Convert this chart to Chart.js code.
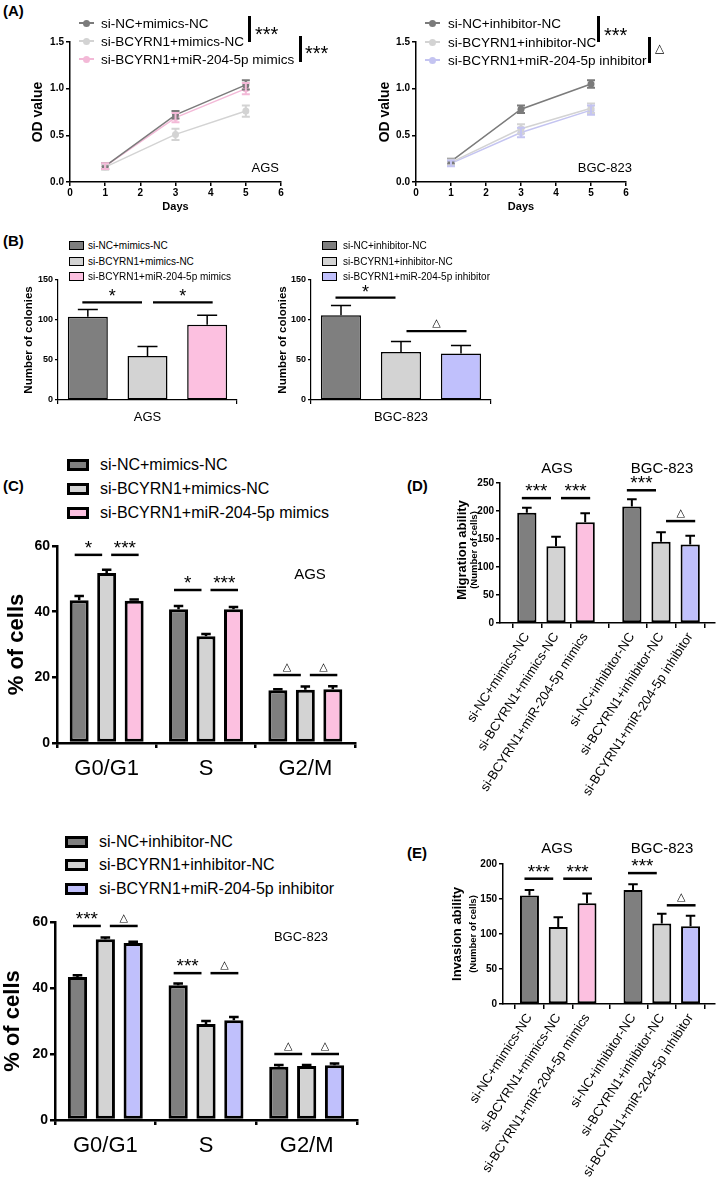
<!DOCTYPE html>
<html><head><meta charset="utf-8">
<script src="https://cdn.jsdelivr.net/npm/chart.js@4.4.0/dist/chart.umd.min.js"></script>
<style>
body{margin:0;background:#fff;width:720px;height:1198px;position:relative;overflow:hidden;font-family:"Liberation Sans",Arial,sans-serif;}
canvas{position:absolute;}
.t{position:absolute;white-space:nowrap;color:#000;line-height:1;}
</style></head><body>
<script>
// ---- data ----
const days = [1, 3, 5];
const groupsMimics = ['si-NC+mimics-NC', 'si-BCYRN1+mimics-NC', 'si-BCYRN1+miR-204-5p mimics'];
const groupsInhib = ['si-NC+inhibitor-NC', 'si-BCYRN1+inhibitor-NC', 'si-BCYRN1+miR-204-5p inhibitor'];

const odAGS = [[0.17, 0.72, 1.04], [0.16, 0.51, 0.76], [0.17, 0.69, 1.00]];
const odAGSErr = [[0.03, 0.04, 0.05], [0.03, 0.06, 0.06], [0.03, 0.05, 0.06]];
const odBGC = [[0.22, 0.78, 1.05], [0.21, 0.57, 0.79], [0.20, 0.53, 0.77]];
const odBGCErr = [[0.03, 0.04, 0.04], [0.03, 0.05, 0.05], [0.03, 0.05, 0.05]];

const colAGS = [104, 55, 94];
const colAGSErr = [9, 12, 12];
const colBGC = [106, 60, 58];
const colBGCErr = [12, 13, 10];

const phases = ['G0/G1', 'S', 'G2/M'];
const cycAGS = [[43.5, 40.7, 16.1], [51.8, 32.5, 16.2], [43.3, 40.7, 16.4]];
const cycAGSErr = [[1.3, 1.0, 0.3], [1.0, 0.7, 1.0], [0.4, 0.7, 0.9]];
const cycBGC = [[43.3, 40.8, 16.1], [54.8, 29.1, 16.4], [53.6, 30.2, 16.6]];
const cycBGCErr = [[0.6, 0.6, 0.6], [0.5, 0.9, 0.3], [0.4, 1.0, 0.5]];

const barLabels = groupsMimics.concat(groupsInhib);
const barPos = [0, 1, 2, 3.6, 4.6, 5.6];
const migration = [197, 137, 180, 208, 145, 140];
const migrationErr = [9, 17, 16, 13, 17, 16];
const invasion = [155, 110, 144, 163, 115, 111];
const invasionErr = [8, 14, 14, 8, 14, 15];

// significance marks: [dataset, index] pairs, height in data units
const sigColAGS = [{a: [0, 0], b: [1, 0], y: 122, t: '*'}, {a: [1, 0], b: [2, 0], y: 122, t: '*'}];
const sigColBGC = [{a: [0, 0], b: [1, 0], y: 128, t: '*'}, {a: [1, 0], b: [2, 0], y: 86, t: '△'}];
const sigCycAGS = [
  {a: [0, 0], b: [1, 0], y: 57.3, t: '*'}, {a: [1, 0], b: [2, 0], y: 57.3, t: '***'},
  {a: [0, 1], b: [1, 1], y: 46.6, t: '*'}, {a: [1, 1], b: [2, 1], y: 46.6, t: '***'},
  {a: [0, 2], b: [1, 2], y: 20.7, t: '△'}, {a: [1, 2], b: [2, 2], y: 20.7, t: '△'}];
const sigCycBGC = [
  {a: [0, 0], b: [1, 0], y: 58.8, t: '***'}, {a: [1, 0], b: [2, 0], y: 58.8, t: '△'},
  {a: [0, 1], b: [1, 1], y: 44.5, t: '***'}, {a: [1, 1], b: [2, 1], y: 44.5, t: '△'},
  {a: [0, 2], b: [1, 2], y: 20, t: '△'}, {a: [1, 2], b: [2, 2], y: 20, t: '△'}];
const sigMig = [{a: [0, 0], b: [0, 1], y: 223, t: '***'}, {a: [0, 1], b: [0, 2], y: 223, t: '***'},
  {a: [0, 3], b: [0, 4], y: 237, t: '***'}, {a: [0, 4], b: [0, 5], y: 182, t: '△'}];
const sigInv = [{a: [0, 0], b: [0, 1], y: 179, t: '***'}, {a: [0, 1], b: [0, 2], y: 179, t: '***'},
  {a: [0, 3], b: [0, 4], y: 187, t: '***'}, {a: [0, 4], b: [0, 5], y: 141, t: '△'}];

const lineColMimics = ['#7b7b7b', '#d3d3d3', '#f3b9d7'];
const lineColInhib = ['#7b7b7b', '#d3d3d3', '#c4c4f1'];
const barColMimics = ['#7f7f7f', '#d3d3d3', '#fcc0e0'];
const barColInhib = ['#7f7f7f', '#d3d3d3', '#c0c0fc'];

const FONT = '"Liberation Sans", Arial, sans-serif';
Chart.defaults.font.family = FONT;
Chart.defaults.color = '#000';

// ---- helpers ----
function canvasAt(left, top, w, h) {
  const c = document.createElement('canvas');
  c.width = w; c.height = h;
  c.style.left = left + 'px'; c.style.top = top + 'px';
  document.body.appendChild(c);
  return c;
}
function label(txt, x, y, font, align, rot) {
  const d = document.createElement('div');
  d.className = 't'; d.textContent = txt; d.style.font = font;
  d.style.left = x + 'px'; d.style.top = y + 'px';
  const tx = align === 'center' ? '-50%' : align === 'right' ? '-100%' : '0';
  d.style.transform = 'translate(' + tx + ',-50%)' + (rot ? ' rotate(' + rot + 'deg)' : '');
  document.body.appendChild(d);
}
function box(x, y, w, h, css) {
  const d = document.createElement('div');
  d.style.cssText = 'position:absolute;box-sizing:border-box;left:' + x + 'px;top:' + y + 'px;width:' + w + 'px;height:' + h + 'px;' + css;
  document.body.appendChild(d);
}
function lineLegend(names, colors, x, ys, textX, font) {
  names.forEach((n, i) => {
    box(x, ys[i] - 1, 15, 2, 'background:' + colors[i]);
    box(x + 4, ys[i] - 3.5, 7, 7, 'border-radius:50%;background:' + colors[i]);
    label(n, textX, ys[i], font, 'left');
  });
}
function barLegend(names, colors, x, ys, w, h, bw, textX, font) {
  names.forEach((n, i) => {
    box(x, ys[i] - h / 2, w, h, 'background:' + colors[i] + ';border:' + bw + 'px solid #000');
    label(n, textX, ys[i], font, 'left');
  });
}
function fix(w, h) {
  return s => {
    if (w != null) s.width = w;
    if (h != null) s.height = h;
    s.paddingLeft = s.paddingRight = s.paddingTop = s.paddingBottom = 0;
  };
}

const errPlugin = {
  id: 'errs',
  afterDatasetsDraw(chart) {
    const ctx = chart.ctx, ys = chart.scales.y;
    chart.data.datasets.forEach((ds, i) => {
      if (!ds.errs) return;
      chart.getDatasetMeta(i).data.forEach((el, j) => {
        const raw = ds.data[j];
        const v = typeof raw === 'object' ? raw.y : raw;
        const e = ds.errs[j];
        const top = ys.getPixelForValue(v + e);
        const bot = ds.errBoth ? ys.getPixelForValue(v - e) : el.y;
        const cap = ds.capW || el.width * 0.5;
        ctx.save();
        ctx.strokeStyle = ds.errColor || '#000';
        ctx.lineWidth = ds.errWidth || 1.5;
        ctx.beginPath();
        ctx.moveTo(el.x, bot); ctx.lineTo(el.x, top);
        ctx.moveTo(el.x - cap / 2, top); ctx.lineTo(el.x + cap / 2, top);
        if (ds.errBoth) { ctx.moveTo(el.x - cap / 2, bot); ctx.lineTo(el.x + cap / 2, bot); }
        ctx.stroke();
        ctx.restore();
      });
    });
  }
};

// comparison bars; the pair that starts at a group's first bar leans left, the other leans right
function sigPlugin(items, st) {
  return {
    id: 'sig',
    afterDraw(chart) {
      const ctx = chart.ctx, ys = chart.scales.y;
      const multi = chart.data.datasets.length > 1;
      items.forEach(s => {
        const ea = chart.getDatasetMeta(s.a[0]).data[s.a[1]];
        const eb = chart.getDatasetMeta(s.b[0]).data[s.b[1]];
        const first = (multi ? s.a[0] : s.a[1] % 3) === 0;
        const sh = first ? -st.shift : st.shift;
        const py = ys.getPixelForValue(s.y);
        const x0 = ea.x + sh, x1 = eb.x + sh - st.gap;
        ctx.save();
        ctx.strokeStyle = '#000'; ctx.lineWidth = st.lw;
        ctx.beginPath(); ctx.moveTo(x0, py); ctx.lineTo(x1, py); ctx.stroke();
        ctx.fillStyle = '#000'; ctx.textAlign = 'center'; ctx.textBaseline = 'alphabetic';
        if (s.t === '△') {
          ctx.font = st.tri + 'px "DejaVu Sans", sans-serif';
          ctx.fillText(s.t, (x0 + x1) / 2, py - st.triLift);
        } else {
          ctx.font = st.star + 'px ' + FONT;
          ctx.fillText(s.t, (x0 + x1) / 2, py - st.starLift);
        }
        ctx.restore();
      });
    }
  };
}

function axisX(o) {
  return Object.assign({
    grid: {drawOnChartArea: false, tickLength: o.tl, color: '#000', lineWidth: o.lw},
    border: {color: '#000', width: o.lw},
    afterFit: fix(null, o.h)
  }, o.extra);
}
function axisY(o) {
  return {
    min: 0, max: o.max,
    ticks: {stepSize: o.step, font: {size: o.fs, weight: 'bold'}, padding: 2, callback: o.cb || (v => v)},
    grid: {drawOnChartArea: false, tickLength: o.tl, color: '#000', lineWidth: o.lw},
    border: {color: '#000', width: o.lw},
    title: o.title ? {display: true, text: o.title, font: {size: o.tfs, weight: 'bold'}, padding: 0} : {display: false},
    afterFit: fix(o.w, null)
  };
}
function baseOpts(padTop, padRight, scales) {
  return {
    responsive: false, animation: false,
    layout: {padding: {top: padTop, right: padRight, left: 0, bottom: 0}},
    plugins: {legend: {display: false}, tooltip: {enabled: false}},
    scales: scales
  };
}

// ---- (A) growth curves ----
function odChart(c, yW, vals, errs, colors, names) {
  return new Chart(c, {
    type: 'line',
    data: {
      datasets: vals.map((v, i) => ({
        label: names[i],
        data: days.map((d, j) => ({x: d, y: v[j]})),
        errs: errs[i], errBoth: true, errColor: colors[i], capW: 8, errWidth: 2,
        borderColor: colors[i], backgroundColor: colors[i], borderWidth: 1.5,
        pointRadius: 3.5, pointBorderWidth: 0
      }))
    },
    options: baseOpts(42, 20, {
      x: axisX({tl: 4, lw: 1.5, h: 32, extra: {
        type: 'linear', min: 0, max: 6,
        ticks: {stepSize: 1, font: {size: 10, weight: 'bold'}, padding: 1},
        title: {display: true, text: 'Days', font: {size: 11, weight: 'bold'}, padding: 0}
      }}),
      y: axisY({max: 1.5, step: 0.5, fs: 10, tl: 4, lw: 1.5, w: yW, title: 'OD value', tfs: 14, cb: v => v.toFixed(1)})
    }),
    plugins: [errPlugin]
  });
}
odChart(canvasAt(30, 0, 271, 214), 40, odAGS, odAGSErr, lineColMimics, groupsMimics);
odChart(canvasAt(377, 0, 269, 214), 39, odBGC, odBGCErr, lineColInhib, groupsInhib);

label('(A)', 3, 10, 'bold 15px ' + FONT, 'left');
lineLegend(groupsMimics, lineColMimics, 79, [23, 41, 59], 101, '13.5px ' + FONT);
lineLegend(groupsInhib, lineColInhib, 425, [23, 42, 60], 448, '13.5px ' + FONT);
box(248, 16, 2.5, 26, 'background:#000');
label('***', 255, 34, '20px ' + FONT, 'left');
box(299, 36, 2.5, 26, 'background:#000');
label('***', 305, 53, '20px ' + FONT, 'left');
box(597, 16, 2.5, 26, 'background:#000');
label('***', 604, 35, '20px ' + FONT, 'left');
box(648, 37, 2.5, 26, 'background:#000');
label('△', 655, 48, '12px "DejaVu Sans"', 'left');
label('AGS', 279, 167, '13px ' + FONT, 'right');
label('BGC-823', 632, 167, '13px ' + FONT, 'right');

// ---- (B) colony formation ----
function colChart(c, yW, cat, vals, errs, colors, names, sigs) {
  return new Chart(c, {
    type: 'bar',
    data: {
      labels: [cat],
      datasets: vals.map((v, i) => ({
        label: names[i], data: [v], errs: [errs[i]], errWidth: 1.5,
        backgroundColor: colors[i], borderColor: '#000', borderWidth: 1.5, borderSkipped: false,
        categoryPercentage: 1, barPercentage: 0.67
      }))
    },
    options: baseOpts(10, 12, {
      x: axisX({tl: 4, lw: 1.2, h: 30, extra: {ticks: {font: {size: 13}, padding: 6}}}),
      y: axisY({max: 150, step: 50, fs: 9, tl: 3, lw: 1.2, w: yW, title: 'Number of colonies', tfs: 11.5})
    }),
    plugins: [errPlugin, sigPlugin(sigs, {shift: 5.5, gap: 0, lw: 2.2, star: 18, starLift: 0, tri: 11, triLift: 5})]
  });
}
colChart(canvasAt(22, 270, 227, 160), 36, 'AGS', colAGS, colAGSErr, barColMimics, groupsMimics, sigColAGS);
colChart(canvasAt(276, 270, 227, 160), 35, 'BGC-823', colBGC, colBGCErr, barColInhib, groupsInhib, sigColBGC);

label('(B)', 3, 240, 'bold 15px ' + FONT, 'left');
barLegend(groupsMimics, barColMimics, 69, [245, 261, 276], 15, 9, 1.3, 88, '10px ' + FONT);
barLegend(groupsInhib, barColInhib, 322, [245, 261, 276], 15, 9, 1.3, 343, '10px ' + FONT);

// ---- (C) cell cycle ----
function cycChart(c, yW, vals, errs, colors, names, sigs) {
  return new Chart(c, {
    type: 'bar',
    data: {
      labels: phases,
      datasets: vals.map((v, i) => ({
        label: names[i], data: v, errs: errs[i], errWidth: 2.5,
        backgroundColor: colors[i], borderColor: '#000', borderWidth: 3, borderSkipped: false,
        categoryPercentage: 0.83, barPercentage: 0.69
      }))
    },
    options: baseOpts(12, 8, {
      x: axisX({tl: 5, lw: 2.5, h: 42, extra: {ticks: {font: {size: 22}, padding: 8}}}),
      y: axisY({max: 60, step: 20, fs: 14, tl: 5, lw: 2.5, w: yW, title: '% of cells', tfs: 22})
    }),
    plugins: [errPlugin, sigPlugin(sigs, {shift: 4.5, gap: 0, lw: 2.5, star: 19, starLift: 1, tri: 11, triLift: 5})]
  });
}
cycChart(canvasAt(4, 534, 359, 251), 53, cycAGS, cycAGSErr, barColMimics, groupsMimics, sigCycAGS);
cycChart(canvasAt(0, 910, 365, 252), 55, cycBGC, cycBGCErr, barColInhib, groupsInhib, sigCycBGC);

label('(C)', 3, 485, 'bold 15px ' + FONT, 'left');
barLegend(groupsMimics, barColMimics, 67, [465, 489, 513], 22, 12, 3, 100, '16px ' + FONT);
label('AGS', 310, 573, '15px ' + FONT, 'center');
barLegend(groupsInhib, barColInhib, 65, [842, 865, 889], 23, 12, 3, 99, '16px ' + FONT);
label('BGC-823', 301, 936, '13px ' + FONT, 'center');

// ---- (D)/(E) migration & invasion ----
function cellChart(c, vals, errs, max, sigs) {
  const colors = barColMimics.concat(barColInhib);
  return new Chart(c, {
    type: 'bar',
    data: {
      datasets: [{
        data: barPos.map((p, i) => ({x: p, y: vals[i]})), errs: errs, errWidth: 2,
        backgroundColor: colors, borderColor: '#000', borderWidth: 2, borderSkipped: false,
        categoryPercentage: 1, barPercentage: 0.66
      }]
    },
    options: baseOpts(10, 5, {
      x: axisX({tl: 5, lw: 1.5, h: 190, extra: {
        type: 'linear', min: -0.92, max: 6.45, offset: false,
        afterBuildTicks: s => { s.ticks = barPos.map(v => ({value: v})); },
        ticks: {autoSkip: false, minRotation: 57, maxRotation: 57, font: {size: 13}, padding: 2,
          callback: (v, i) => barLabels[i]}
      }}),
      y: axisY({max: max, step: 50, fs: 10, tl: 4, lw: 1.5, w: 60})
    }),
    plugins: [errPlugin, sigPlugin(sigs, {shift: 5, gap: 0, lw: 2.5, star: 19, starLift: 1, tri: 11, triLift: 5})]
  });
}
cellChart(canvasAt(440, 473, 280, 340), migration, migrationErr, 250, sigMig);
cellChart(canvasAt(443, 854, 277, 340), invasion, invasionErr, 200, sigInv);

label('(D)', 407, 485, 'bold 15px ' + FONT, 'left');
label('AGS', 557, 467, '15px ' + FONT, 'center');
label('BGC-823', 662, 467, '15px ' + FONT, 'center');
label('Migration ability', 461, 550, 'bold 13px ' + FONT, 'center', -90);
label('(Number of cells)', 473, 550, 'bold 9.5px ' + FONT, 'center', -90);

label('(E)', 407, 852, 'bold 15px ' + FONT, 'left');
label('AGS', 557, 847, '15px ' + FONT, 'center');
label('BGC-823', 662, 847, '15px ' + FONT, 'center');
label('Invasion ability', 456, 934, 'bold 13px ' + FONT, 'center', -90);
label('(Number of cells)', 472, 934, 'bold 9.5px ' + FONT, 'center', -90);
</script>
</body></html>
